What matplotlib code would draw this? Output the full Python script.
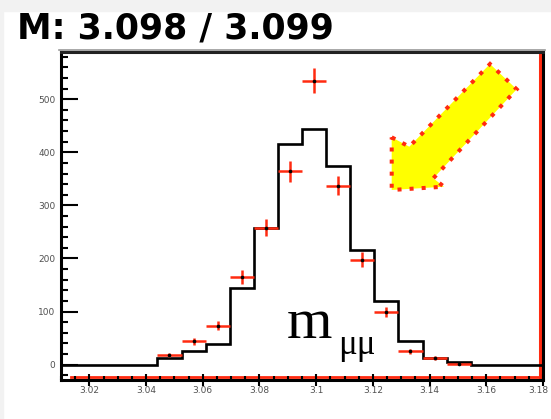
import numpy as np
import matplotlib
matplotlib.use("Agg")
import matplotlib.pyplot as plt
from matplotlib.patches import Polygon, Rectangle
from matplotlib.ticker import MultipleLocator
from matplotlib.transforms import ScaledTranslation

# dimuon invariant mass, 20 bins between 3.01 and 3.18 GeV
x_lo, x_hi, n_bins = 3.01, 3.18, 20
mc_counts = [0, 0, 0, 0, 13, 26, 38, 144, 257, 415,
             443, 375, 216, 119, 44, 12, 5, 0, 0, 0]
data_counts = [0, 0, 0, 0, 18, 44, 73, 165, 258, 364,
               535, 337, 198, 99, 25, 13, 2, 0, 0, 0]
title_text = "M: 3.098 / 3.099"
x_ticks = [3.02, 3.04, 3.06, 3.08, 3.10, 3.12, 3.14, 3.16, 3.18]
x_labels = ["3.02", "3.04", "3.06", "3.08", "3.1", "3.12", "3.14", "3.16", "3.18"]
y_ticks = [0, 100, 200, 300, 400, 500]

edges = np.linspace(x_lo, x_hi, n_bins + 1)
centers = 0.5 * (edges[:-1] + edges[1:])
half_w = 0.5 * (edges[1] - edges[0])
data = np.array(data_counts, dtype=float)
filled = data > 0

W, H = 551, 419
RED = "#ff2a10"
fig = plt.figure(figsize=(W / 100, H / 100), dpi=100)
fig.patch.set_facecolor("white")
fig.patches.append(Rectangle((0, 1 - 11 / H), 1, 11 / H, transform=fig.transFigure,
                             color="#f2f2f2", zorder=0))
fig.patches.append(Rectangle((0, 0), 3 / W, 1, transform=fig.transFigure,
                             color="#f2f2f2", zorder=0))

# frame in pixels: left 61, right 543, top 52, bottom 380
ax = fig.add_axes([61 / W, (H - 380) / H, 482 / W, 328 / H])
ax.set_xlim(x_lo, x_hi)
ax.set_ylim(-29, 589)

ax.stairs(mc_counts, edges, color="black", lw=1.9, zorder=3)
ax.errorbar(centers[filled], data[filled], xerr=half_w, yerr=np.sqrt(data[filled]),
            fmt="none", ecolor=RED, elinewidth=1.8, capsize=0, zorder=4)
ax.plot(centers[filled], data[filled], "o", color="black", ms=1.6, zorder=5)

# frame: black outline with a red inner edge along bottom and right
for side in ax.spines.values():
    side.set_linewidth(2.2)
    side.set_color("black")
ax.spines["top"].set_color("#222222")
ax.plot([0.02, 0.994], [0.009, 0.009], transform=ax.transAxes, color=RED, lw=2.0,
        clip_on=False, zorder=1.5)
ax.plot([0.994, 0.994], [0.009, 1], transform=ax.transAxes, color=RED, lw=2.2,
        clip_on=False, zorder=1.5)
ax.plot([-0.004, 1.004], [1.007, 1.007], transform=ax.transAxes, color="#9a9a9a",
        lw=1.2, clip_on=False, zorder=1)

ax.set_yticks(y_ticks)
ax.yaxis.set_minor_locator(MultipleLocator(20))
ax.set_xticks(x_ticks, x_labels)
ax.xaxis.set_minor_locator(MultipleLocator(0.005))
ax.tick_params(axis="y", which="major", direction="in", length=12, width=1.5,
               labelsize=6.5, labelcolor="#505050", pad=4)
ax.tick_params(axis="y", which="minor", direction="in", length=5, width=1.5)
ax.tick_params(axis="x", which="major", direction="inout", length=8, width=1.5,
               labelsize=6.5, labelcolor="#505050", pad=0)
ax.tick_params(axis="x", which="minor", direction="in", length=3, width=1.5)

# nudge the last x label so it stays on the canvas
last = ax.get_xticklabels()[-1]
last.set_transform(last.get_transform() + ScaledTranslation(-0.05, 0, fig.dpi_scale_trans))

fig.text(17 / W, 1 - 39 / H, title_text, fontsize=25, fontweight="bold",
         family="DejaVu Sans", va="baseline", ha="left")

ax.text(0.469, 0.128, "m", transform=ax.transAxes, fontsize=42,
        family="Liberation Serif", va="baseline", ha="left")
ax.text(0.574, 0.079, "μμ", transform=ax.transAxes, fontsize=25,
        family="Liberation Serif", va="baseline", ha="left")

# pointer arrow, yellow with red dotted outline
arrow_xy = [(391.7, 137.3), (409.3, 146.7), (490, 64), (516.7, 89.3),
            (433.3, 178.3), (444, 186.7), (391.7, 190)]
arrow_ax = [((px - 61) / 482, (380 - py) / 328) for px, py in arrow_xy]
ax.add_patch(Polygon(arrow_ax, closed=True, transform=ax.transAxes,
                     facecolor="#ffff00", edgecolor="none", zorder=6))
ax.add_patch(Polygon(arrow_ax, closed=True, transform=ax.transAxes,
                     facecolor="none", edgecolor=RED, lw=2.9,
                     linestyle=(0, (1, 2)), capstyle="butt", zorder=7))

fig.savefig("out.png", dpi=100)
